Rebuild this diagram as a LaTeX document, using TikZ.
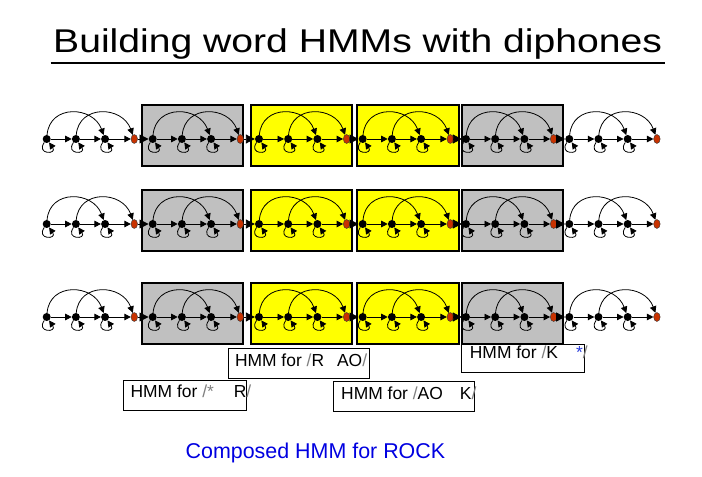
\documentclass[tikz,border=0pt]{standalone}
\usepackage{fontspec}
\setmainfont{Liberation Sans}
\usetikzlibrary{arrows.meta,shapes.geometric}
\definecolor{boxgray}{RGB}{192,192,192}
\definecolor{boxyellow}{RGB}{255,255,0}
\definecolor{endred}{RGB}{200,50,0}
\definecolor{slashgray}{RGB}{128,128,128}
\definecolor{capblue}{RGB}{0,0,225}
\definecolor{starblue}{RGB}{40,60,220}
\begin{document}
\begin{tikzpicture}[x=1bp,y=-1bp,
  stt/.style={circle, fill=black, inner sep=0pt, minimum size=8bp},
  endst/.style={ellipse, draw=black!80, line width=0.4bp, fill=endred, inner sep=0pt, minimum width=6.5bp, minimum height=9bp},
  hmmbox/.style={draw=black, line width=2bp},
  arr/.style={-{Triangle[length=6.5bp,width=6.5bp]}, line width=0.8bp},
  bigarr/.style={-{Triangle[length=9bp,width=9bp]}, line width=0.9bp},
  skiparc/.style={out=85, in=110, looseness=1.4},
  selfloop/.style={out=235, in=305, looseness=8, min distance=11bp},
  lblbox/.style={draw=black, line width=0.7bp, inner sep=0pt},
  lbltxt/.style={anchor=base west, inner sep=0pt, font=\fontsize{17.5}{20}\selectfont},
]
\useasboundingbox (0,0) rectangle (702,477);
\fill[white] (0,0) rectangle (702,477);

% title
\node[anchor=base west, inner sep=0pt] (title) at (53,53)
  {\scalebox{1.19}[1]{\fontsize{33}{38}\selectfont Building word HMMs with diphones}};
\draw[line width=2bp] (50.7,63.5) -- (665,63.5);

\foreach \r/\y in {1/139,2/224,3/317} {
  % boxes
  \draw[hmmbox, fill=boxgray]   (142,{\y-34}) rectangle (243,{\y+27});
  \draw[hmmbox, fill=boxyellow] (251,{\y-34}) rectangle (352,{\y+27});
  \draw[hmmbox, fill=boxyellow] (357,{\y-34}) rectangle (459,{\y+27});
  \draw[hmmbox, fill=boxgray]   (462,{\y-34}) rectangle (563,{\y+27});
  % states
  \foreach \g/\gx in {0/46.7,1/152.7,2/259,3/362.7,4/466,5/569.3} {
    \foreach \i/\dx in {0/0,1/29.2,2/58.4}
      \node[stt] (s\r-\g-\i) at ({\gx+\dx},\y) {};
    \node[endst] (s\r-\g-3) at ({\gx+87.6},\y) {};
    % transitions
    \draw[arr] (s\r-\g-0) -- (s\r-\g-1);
    \draw[arr] (s\r-\g-1) -- (s\r-\g-2);
    \draw[arr] (s\r-\g-2) -- (s\r-\g-3);
    \draw[arr] (s\r-\g-0) to[skiparc] (s\r-\g-2);
    \draw[arr] (s\r-\g-1) to[skiparc] (s\r-\g-3);
    \foreach \i in {0,1,2}
      \draw[arr] (s\r-\g-\i) to[selfloop] (s\r-\g-\i);
  }
  \foreach \g [evaluate=\g as \h using int(\g+1)] in {0,...,4}
    \draw[bigarr] (s\r-\g-3) -- (s\r-\h-0);
}

% labels
\node[lblbox, minimum width=141bp, minimum height=30bp] (lblRAO) at (298.8,363.3) {};
\node[lblbox, minimum width=123.4bp, minimum height=30.7bp] (lblSR) at (185,395.3) {};
\node[lblbox, minimum width=141bp, minimum height=30bp] (lblAOK) at (403.8,396.7) {};
\node[lblbox, minimum width=123.3bp, minimum height=28.3bp] (lblKS) at (522.7,358.2) {};

\node[lbltxt] (tRAO) at (234.8,366) {HMM for \textcolor{slashgray}{/}R\hspace{13bp}AO\textcolor{slashgray}{/}};
\node[lbltxt] (tSR) at (130.4,397.7) {HMM for \textcolor{slashgray}{/*}\hspace{20bp}R\textcolor{slashgray}{/}};
\node[lbltxt] (tAOK) at (341,399.3) {HMM for \textcolor{slashgray}{/}AO\hspace{17bp}K\textcolor{slashgray}{/}};
\node[lbltxt] (tKS) at (469.7,358.3) {HMM for \textcolor{slashgray}{/}K\hspace{18bp}\textcolor{starblue}{*}\textcolor{slashgray}{/}};

% caption
\node[anchor=base west, inner sep=0pt, text=capblue, font=\fontsize{21.5}{26}\selectfont] (caption) at (185.5,458.3) {Composed HMM for ROCK};
\end{tikzpicture}
\end{document}
